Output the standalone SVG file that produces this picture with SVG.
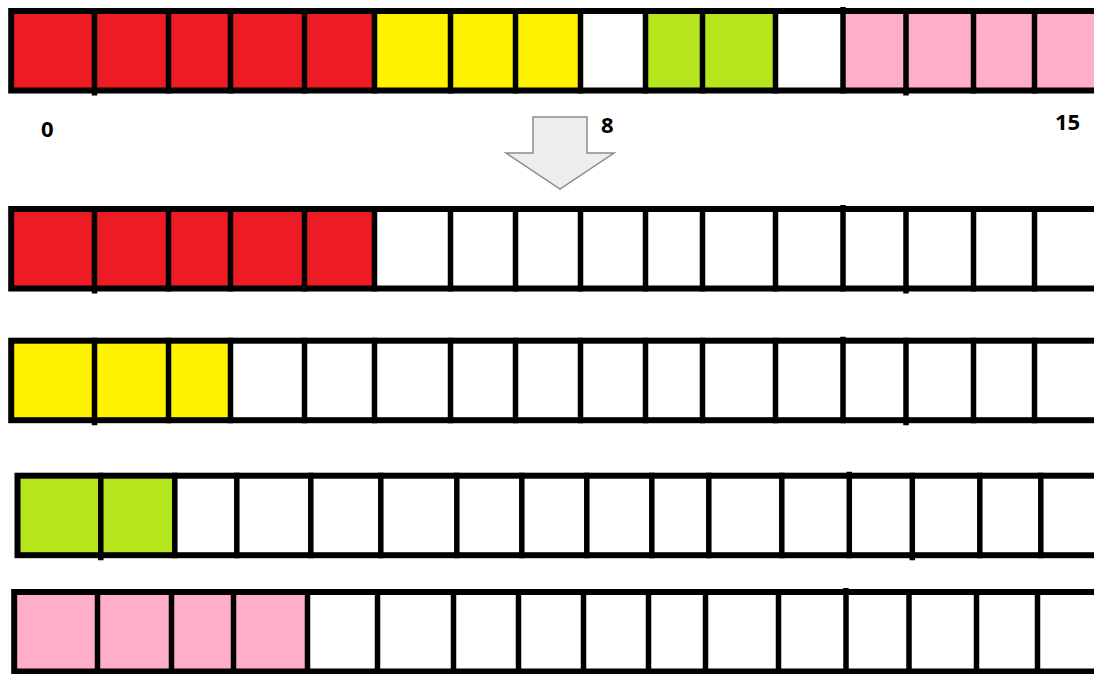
<svg xmlns="http://www.w3.org/2000/svg" xmlns:xlink="http://www.w3.org/1999/xlink" width="1094" height="674" viewBox="0 0 1094 674">
<style>
.r{fill:#ED1C24}.y{fill:#FFF200}.g{fill:#B5E61D}.p{fill:#FFAEC9}
.frame{fill:none;stroke:#000;stroke-width:6}
.div{stroke:#000;stroke-width:5.5}
.lbl{font-family:"Open Sans","Liberation Sans",sans-serif;font-weight:bold;font-size:22px;fill:#000}
.arrow{fill:#EDEDED;stroke:#8C8C8C;stroke-width:1.5;stroke-linejoin:miter}
</style>
<defs>
<g id="grid">
<rect class="frame" x="11.2" y="3" width="1120" height="79.5"/>
<path class="div" d="M94.5 0V87.5M168.5 0V85.5M230.5 0V85.5M304.5 0V85.5M374.5 0V85.5M450.5 0V85.5M515.5 0V85.5M580.5 0V85.5M645.5 0V85.5M702.5 0V85.5M775.5 0V85.5M843 -1V85.5M906 0V87.5M973.5 0V85.5M1034.5 0V85.5"/>
</g>
</defs>
<rect width="1094" height="674" fill="#fff"/>
<g id="row-source" transform="translate(0,8)">
<rect class="r" x="11.2" y="3" width="83.3" height="79.5"/>
<rect class="r" x="94.5" y="3" width="74" height="79.5"/>
<rect class="r" x="168.5" y="3" width="62" height="79.5"/>
<rect class="r" x="230.5" y="3" width="74" height="79.5"/>
<rect class="r" x="304.5" y="3" width="70" height="79.5"/>
<rect class="y" x="374.5" y="3" width="76" height="79.5"/>
<rect class="y" x="450.5" y="3" width="65" height="79.5"/>
<rect class="y" x="515.5" y="3" width="65" height="79.5"/>
<rect class="g" x="645.5" y="3" width="57" height="79.5"/>
<rect class="g" x="702.5" y="3" width="73" height="79.5"/>
<rect class="p" x="843" y="3" width="63" height="79.5"/>
<rect class="p" x="906" y="3" width="67.5" height="79.5"/>
<rect class="p" x="973.5" y="3" width="61" height="79.5"/>
<rect class="p" x="1034.5" y="3" width="70" height="79.5"/>
<use xlink:href="#grid" href="#grid"/>
</g>
<g id="labels">
<text class="lbl" x="41" y="136.5">0</text>
<text class="lbl" x="601" y="133">8</text>
<text class="lbl" x="1055" y="130">15</text>
</g>
<g id="connectors">
<polygon class="arrow" points="533,117 587,117 587,153 614,153 560,189 506,153 533,153"/>
</g>
<g id="row-red" transform="translate(0,206)">
<rect class="r" x="11.2" y="3" width="83.3" height="79.5"/>
<rect class="r" x="94.5" y="3" width="74" height="79.5"/>
<rect class="r" x="168.5" y="3" width="62" height="79.5"/>
<rect class="r" x="230.5" y="3" width="74" height="79.5"/>
<rect class="r" x="304.5" y="3" width="70" height="79.5"/>
<use xlink:href="#grid" href="#grid"/>
</g>
<g id="row-yellow" transform="translate(0,337.7)">
<rect class="y" x="11.2" y="3" width="83.3" height="79.5"/>
<rect class="y" x="94.5" y="3" width="74" height="79.5"/>
<rect class="y" x="168.5" y="3" width="62" height="79.5"/>
<use xlink:href="#grid" href="#grid"/>
</g>
<g id="row-green" transform="translate(6.3,472.7)">
<rect class="g" x="11.2" y="3" width="83.3" height="79.5"/>
<rect class="g" x="94.5" y="3" width="74" height="79.5"/>
<use xlink:href="#grid" href="#grid"/>
</g>
<g id="row-pink" transform="translate(3,589)">
<rect class="p" x="11.2" y="3" width="83.3" height="79.5"/>
<rect class="p" x="94.5" y="3" width="74" height="79.5"/>
<rect class="p" x="168.5" y="3" width="62" height="79.5"/>
<rect class="p" x="230.5" y="3" width="74" height="79.5"/>
<use xlink:href="#grid" href="#grid"/>
</g>
</svg>
